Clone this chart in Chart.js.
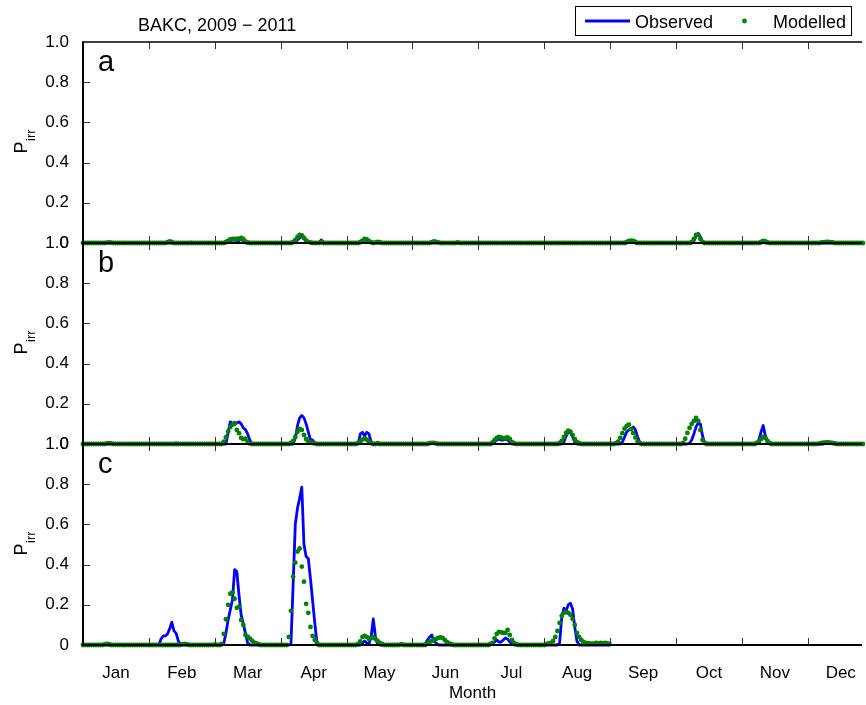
<!DOCTYPE html>
<html><head><meta charset="utf-8">
<script src="https://cdn.jsdelivr.net/npm/chart.js@4"></script>
<style>html,body{margin:0;padding:0;background:#fff}#wrap{position:relative;width:866px;height:705px}</style>
</head><body><div id="wrap"><canvas id="c"></canvas></div>
<script>
const months = ['Jan','Feb','Mar','Apr','May','Jun','Jul','Aug','Sep','Oct','Nov','Dec'];
const panelLetters = ['a','b','c'];
const yTickValues = [0.2,0.4,0.6,0.8];
const titleText = 'BAKC, 2009 \u2212 2011';
const seriesNames = ['Observed','Modelled'];

// Daily Pirr values (index = day of year, 0-based)
const obsA = [
/*0*/   0,0,0,0,0,0,0,0,0,0,
/*10*/  0,0,0,0,0,0,0,0,0,0,
/*20*/  0,0,0,0,0,0,0,0,0,0,
/*30*/  0,0,0,0,0,0,0,0,0,0,
/*40*/  0,0,0,0,0,0,0,0,0,0,
/*50*/  .005,0,0,0,0,0,0,0,0,0,
/*60*/  0,0,0,0,0,0,0,.005,.01,.015,
/*70*/  .015,.012,.012,.02,.01,0,0,0,0,0,
/*80*/  0,0,0,0,0,0,0,0,0,0,
/*90*/  0,0,0,0,0,0,0,0,.005,.015,
/*100*/ .025,.035,.03,.015,.003,0,0,0,0,.005,
/*110*/ .015,.005,0,0,0,0,0,0,0,0,
/*120*/ 0,0,0,0,0,0,0,0,0,.01,
/*130*/ .015,.012,.005,0,0,0,0,0,0,0,
/*140*/ 0,0,0,0,0,0,0,0,0,0,
/*150*/ 0,0,0,0,0,0,0,0,0,0,
/*160*/ 0,0,0,0,0,0,0,0,0,0,
/*170*/ 0,0,0,0,0,0,0,0,0,0,
/*180*/ 0,0,0,0,0,0,0,0,0,0,
/*190*/ 0,0,0,0,0,0,0,0,0,0,
/*200*/ 0,0,0,0,0,0,0,0,0,0,
/*210*/ 0,0,0,0,0,0,0,0,0,0,
/*220*/ 0,0,0,0,0,0,0,0,0,0,
/*230*/ 0,0,0,0,0,0,0,0,0,0,
/*240*/ 0,0,0,0,0,0,0,0,0,0,
/*250*/ 0,0,.005,.008,.005,0,0,0,0,0,
/*260*/ 0,0,0,0,0,0,0,0,0,0,
/*270*/ 0,0,0,0,0,0,0,0,0,0,
/*280*/ 0,0,.01,.035,.048,.03,.005,0,0,0,
/*290*/ 0,0,0,0,0,0,0,0,0,0,
/*300*/ 0,0,0,0,0,0,0,0,0,0,
/*310*/ 0,0,0,0,.005,0,0,0,0,0,
/*320*/ 0,0,0,0,0,0,0,0,0,0,
/*330*/ 0,0,0,0,0,0,0,0,0,0,
/*340*/ 0,0,0,0,0,0,0,0,0,0,
/*350*/ 0,0,0,0,0,0,0,0,0,0,
/*360*/ 0,0,0,0,0
];
const modA = [
/*0*/   0,0,0,0,0,0,0,0,0,0,
/*10*/  0,.002,.003,.002,0,0,0,0,0,0,
/*20*/  0,0,0,0,0,0,0,0,0,0,
/*30*/  0,0,0,0,0,0,0,0,0,.004,
/*40*/  .008,.005,0,0,0,0,0,0,0,0,
/*50*/  0,0,0,0,0,0,0,0,0,0,
/*60*/  0,0,0,0,0,0,.005,.012,.018,.02,
/*70*/  .02,.02,.022,.025,.02,.008,.003,0,0,0,
/*80*/  0,0,0,0,0,0,0,0,0,0,
/*90*/  0,0,0,0,0,0,0,.005,.015,.03,
/*100*/ .04,.038,.025,.012,.006,.003,0,0,0,0,
/*110*/ .004,0,0,0,0,0,0,0,0,0,
/*120*/ 0,0,0,0,0,0,0,0,.005,.012,
/*130*/ .02,.018,.01,.004,0,.003,.005,.004,0,0,
/*140*/ 0,0,0,0,0,0,0,0,0,0,
/*150*/ 0,0,0,0,0,0,0,0,0,0,
/*160*/ 0,.004,.008,.006,.003,0,0,0,0,0,
/*170*/ 0,0,0,.003,0,0,0,0,0,0,
/*180*/ 0,0,0,0,0,0,0,0,0,0,
/*190*/ 0,0,0,0,0,0,0,0,0,0,
/*200*/ 0,0,0,0,0,0,0,0,0,0,
/*210*/ 0,0,0,0,0,0,0,0,0,0,
/*220*/ 0,0,0,0,0,0,0,0,0,0,
/*230*/ 0,0,0,0,0,0,0,0,0,0,
/*240*/ 0,0,0,0,0,0,0,0,0,0,
/*250*/ 0,.005,.01,.012,.01,.005,0,0,0,0,
/*260*/ 0,0,0,0,0,0,0,0,0,0,
/*270*/ 0,0,0,0,0,0,0,0,0,0,
/*280*/ 0,.005,.02,.04,.04,.02,.005,0,0,0,
/*290*/ 0,0,0,0,0,0,0,0,0,0,
/*300*/ 0,0,0,0,0,0,0,0,0,0,
/*310*/ 0,0,0,.005,.01,.008,.003,0,0,0,
/*320*/ 0,0,0,0,0,0,0,0,0,0,
/*330*/ 0,0,0,0,0,0,0,0,0,0,
/*340*/ 0,.003,.004,.005,.005,.004,.003,0,0,0,
/*350*/ 0,0,0,0,0,0,0,0,0,0,
/*360*/ 0,0,0,0,0
];
const obsB = [
/*0*/   0,0,0,0,0,0,0,0,0,0,
/*10*/  0,0,0,0,0,0,0,0,0,0,
/*20*/  0,0,0,0,0,0,0,0,0,0,
/*30*/  0,0,0,0,0,0,0,0,0,0,
/*40*/  0,0,0,.006,0,0,0,0,0,0,
/*50*/  0,0,0,0,0,0,0,0,0,0,
/*60*/  0,0,0,0,0,0,0,.06,.11,.1,
/*70*/  .097,.105,.11,.1,.08,.072,.05,.02,0,0,
/*80*/  0,0,0,0,0,0,0,0,0,0,
/*90*/  0,0,0,0,0,0,0,0,.03,.09,
/*100*/ .13,.142,.13,.1,.06,.02,.02,.005,0,0,
/*110*/ 0,0,0,0,0,0,0,0,0,0,
/*120*/ 0,0,0,0,0,0,0,0,.05,.058,
/*130*/ .04,.058,.05,.01,0,0,0,0,0,0,
/*140*/ 0,0,0,0,0,0,0,0,0,0,
/*150*/ 0,0,0,0,0,0,0,0,0,0,
/*160*/ .005,.008,.005,0,0,0,0,0,0,0,
/*170*/ 0,0,0,0,0,0,0,0,0,0,
/*180*/ 0,0,0,0,0,0,0,0,0,0,
/*190*/ .01,.02,.025,.02,.02,.025,.02,.01,0,0,
/*200*/ 0,0,0,0,0,0,0,0,0,0,
/*210*/ 0,0,0,0,0,0,0,0,0,0,
/*220*/ 0,0,.01,.04,.058,.058,.035,.01,0,0,
/*230*/ 0,0,0,0,0,0,0,0,0,0,
/*240*/ 0,0,0,0,0,0,0,0,0,.01,
/*250*/ .035,.06,.07,.075,.085,.07,.035,.01,0,0,
/*260*/ 0,0,0,0,0,0,0,0,0,0,
/*270*/ 0,0,0,0,0,0,0,0,0,0,
/*280*/ .005,.02,.05,.085,.105,.1,.04,.005,0,0,
/*290*/ 0,0,0,0,0,0,0,0,0,0,
/*300*/ 0,0,0,0,0,0,0,0,0,0,
/*310*/ 0,.005,.02,.06,.092,.04,.01,0,0,0,
/*320*/ 0,0,0,0,0,0,0,0,0,0,
/*330*/ 0,0,0,0,0,0,0,0,0,0,
/*340*/ 0,0,0,.004,.005,.005,.004,0,0,0,
/*350*/ 0,0,0,0,0,0,0,0,0,0,
/*360*/ 0,0,0,0,0
];
const modB = [
/*0*/   0,0,0,0,0,0,0,0,0,0,
/*10*/  0,.003,.004,.003,0,0,0,0,0,0,
/*20*/  0,0,0,0,0,0,0,0,0,0,
/*30*/  0,0,0,0,0,0,0,0,0,0,
/*40*/  0,0,0,0,0,0,0,0,0,0,
/*50*/  0,0,0,0,0,0,0,0,0,0,
/*60*/  0,0,0,0,0,.012,.034,.062,.084,.096,
/*70*/  .104,.07,.054,.03,.024,.026,.01,.003,0,0,
/*80*/  0,0,0,0,0,0,0,0,0,0,
/*90*/  0,0,0,0,0,0,.005,.015,.035,.06,
/*100*/ .075,.07,.045,.025,.012,.008,.005,.003,0,0,
/*110*/ 0,0,0,0,0,0,0,0,0,0,
/*120*/ 0,0,0,0,0,0,0,.005,.012,.022,
/*130*/ .028,.022,.012,.005,0,0,.004,0,0,0,
/*140*/ 0,0,0,0,0,0,0,0,0,0,
/*150*/ 0,0,0,0,0,0,0,0,0,0,
/*160*/ .004,.006,.006,.003,0,0,0,0,0,0,
/*170*/ 0,0,0,0,0,0,0,0,0,0,
/*180*/ 0,0,0,0,0,0,0,0,0,.008,
/*190*/ .02,.03,.035,.033,.028,.03,.033,.025,.01,.004,
/*200*/ 0,0,0,0,0,0,0,0,0,0,
/*210*/ 0,0,0,0,0,0,0,0,0,0,
/*220*/ .005,.015,.035,.055,.066,.062,.045,.025,.01,.004,
/*230*/ 0,0,0,0,0,0,0,0,0,0,
/*240*/ 0,0,0,0,0,0,.004,.012,.03,.054,
/*250*/ .076,.09,.096,.074,.054,.032,.012,.004,0,0,
/*260*/ 0,0,0,0,0,0,0,0,0,0,
/*270*/ 0,0,0,0,0,0,0,.005,.026,.055,
/*280*/ .08,.1,.115,.13,.115,.07,.02,.005,0,0,
/*290*/ 0,0,0,0,0,0,0,0,0,0,
/*300*/ 0,0,0,0,0,0,0,0,0,0,
/*310*/ 0,.005,.012,.025,.035,.03,.015,.005,0,0,
/*320*/ 0,0,0,0,0,0,0,0,0,0,
/*330*/ 0,0,0,0,0,0,0,0,0,0,
/*340*/ .003,.005,.007,.008,.008,.007,.005,.003,0,0,
/*350*/ 0,0,0,0,0,0,0,0,0,0,
/*360*/ 0,0,0,0,0
];
const obsC = [
/*0*/   0,0,0,0,0,0,0,0,0,0,
/*10*/  0,0,0,0,0,0,0,0,0,0,
/*20*/  0,0,0,0,0,0,0,0,0,0,
/*30*/  0,0,0,0,0,0,.03,.045,.045,.055,
/*40*/  .08,.113,.07,.058,.02,0,0,0,0,0,
/*50*/  0,0,0,0,0,0,0,0,0,0,
/*60*/  0,0,0,0,0,.01,.06,.125,.175,.225,
/*70*/  .375,.365,.25,.15,.105,.058,.01,0,0,0,
/*80*/  0,0,0,0,0,0,0,0,0,0,
/*90*/  0,0,0,0,0,0,.005,.3,.6,.68,
/*100*/ .73,.785,.5,.44,.43,.33,.22,.11,.01,0,
/*110*/ 0,0,0,0,0,0,0,0,0,0,
/*120*/ 0,0,0,0,0,0,0,0,0,.01,
/*130*/ .02,.01,.005,.04,.13,.04,.005,0,0,0,
/*140*/ 0,0,0,0,0,0,0,.005,0,0,
/*150*/ 0,0,0,0,0,0,0,0,.005,.025,
/*160*/ .04,.05,.02,.01,0,0,0,0,0,0,
/*170*/ 0,0,0,0,0,0,0,0,0,0,
/*180*/ 0,0,0,0,0,0,0,0,0,.005,
/*190*/ .015,.025,.015,.015,.025,.035,.03,.015,.005,0,
/*200*/ 0,0,0,0,0,0,0,0,0,0,
/*210*/ 0,0,0,0,0,0,0,0,0,0,
/*220*/ .01,.14,.183,.17,.2,.208,.18,.09,.02,0,
/*230*/ 0,0,0,0,0,0,0,0,0,0,
/*240*/ 0,0,0,0
];
const modC = [
/*0*/   0,0,0,0,0,0,0,0,0,0,
/*10*/  .003,.006,.004,0,0,0,0,0,0,0,
/*20*/  0,0,0,0,0,0,0,0,0,0,
/*30*/  0,0,0,0,0,0,0,0,0,0,
/*40*/  0,0,0,0,0,0,.004,.005,.003,0,
/*50*/  0,0,0,0,0,0,0,0,0,0,
/*60*/  0,.003,0,0,.005,.055,.128,.2,.255,.262,
/*70*/  .23,.185,.19,.125,.1,.05,.042,.033,.022,.012,
/*80*/  .008,.004,0,0,0,0,0,0,0,0,
/*90*/  0,0,0,0,0,.04,.17,.34,.41,.465,
/*100*/ .48,.39,.315,.205,.16,.09,.045,.025,.01,0,
/*110*/ 0,0,0,0,0,0,0,0,0,0,
/*120*/ 0,0,0,0,0,0,0,.005,.018,.04,
/*130*/ .045,.04,.03,.035,.038,.03,.02,.01,.005,0,
/*140*/ 0,0,0,0,0,0,0,.004,0,0,
/*150*/ 0,0,0,0,0,0,0,0,0,.008,
/*160*/ .015,.02,.025,.03,.035,.038,.035,.025,.015,.008,
/*170*/ .004,0,0,0,0,0,0,0,0,0,
/*180*/ 0,0,0,0,0,0,0,0,.005,.01,
/*190*/ .033,.055,.065,.063,.06,.06,.075,.05,.025,.01,
/*200*/ .004,0,0,0,0,0,0,0,0,0,
/*210*/ 0,0,0,0,.005,.008,.01,.02,.04,.07,
/*220*/ .11,.145,.16,.165,.16,.15,.13,.1,.06,.04,
/*230*/ .025,.015,.01,.008,.008,.006,.008,.01,.008,.01,
/*240*/ .008,.01,.008,.005
];

const FONT = '"Liberation Sans", Arial, Helvetica, sans-serif';
const DAYS_PER_MONTH = 365 / 12;
const X_MAX = 359.6;
const BLUE = '#0000ff';
const GREEN = '#008000';

function toPoints(arr){ return arr.map((v, i) => ({x: i, y: v})); }

function panelAxis(weight){
  return {
    type: 'linear', position: 'left', stack: 'panels', stackWeight: 1, weight: weight,
    min: 0, max: 1,
    grid: {display: false}, border: {display: false},
    ticks: {stepSize: 0.2, autoSkip: false, color: '#000', padding: 6, font: {family: FONT, size: 17},
      callback: v => (Math.abs(v) < 1e-9 ? '0' : v.toFixed(1))},
    afterFit(s){ s.width = 83; }
  };
}

const panelIds = ['yA','yB','yC'];
const obsSets = [obsA, obsB, obsC];
const modSets = [modA, modB, modC];
const datasets = [];
panelIds.forEach((id, k) => {
  datasets.push({label: seriesNames[0], data: toPoints(obsSets[k]), yAxisID: id, xAxisID: 'x',
    borderColor: BLUE, borderWidth: 2.8, borderJoinStyle: 'round', borderCapStyle: 'round',
    pointRadius: 0, tension: 0, fill: false, order: 2, clip: 3});
  datasets.push({label: seriesNames[1], data: toPoints(modSets[k]), yAxisID: id, xAxisID: 'x',
    showLine: false, pointRadius: 2.4, pointBorderWidth: 0, pointBackgroundColor: GREEN,
    borderColor: GREEN, order: 1, clip: 4});
});

function seg(ctx, x1, y1, x2, y2){ ctx.beginPath(); ctx.moveTo(x1, y1); ctx.lineTo(x2, y2); ctx.stroke(); }

const framePlugin = {
  id: 'frame',
  afterDatasetsDraw(chart){
    const {ctx, chartArea: ca, scales} = chart;
    const xs = scales.x;
    ctx.save();
    ctx.strokeStyle = '#333'; ctx.lineWidth = 1;
    panelIds.forEach(id => {
      const s = scales[id];
      for (let k = 1; k < 12; k++) {
        const px = Math.round(xs.getPixelForValue(k * DAYS_PER_MONTH)) + 0.5;
        if (px > ca.right) continue;
        seg(ctx, px, s.top, px, s.top + 7);
        seg(ctx, px, s.bottom, px, s.bottom - 7);
      }
      yTickValues.forEach(v => {
        const py = Math.round(s.getPixelForValue(v)) + 0.5;
        seg(ctx, ca.left, py, ca.left + 7, py);
      });
    });
    ctx.strokeStyle = '#000';
    ctx.lineWidth = 1.5;
    seg(ctx, ca.left, scales.yA.top, ca.right, scales.yA.top);
    ctx.lineWidth = 2;
    panelIds.forEach(id => seg(ctx, ca.left, scales[id].bottom, ca.right, scales[id].bottom));
    seg(ctx, ca.left, ca.top - 0.75, ca.left, ca.bottom + 1);
    ctx.restore();
  },
  afterDraw(chart){
    const {ctx, scales} = chart;
    ctx.save();
    ctx.fillStyle = '#000';
    ctx.font = '18px ' + FONT;
    ctx.textAlign = 'left'; ctx.textBaseline = 'alphabetic';
    ctx.fillText(titleText, 138, 31);
    panelIds.forEach((id, k) => {
      const s = scales[id];
      ctx.font = '29px ' + FONT;
      ctx.textAlign = 'left'; ctx.textBaseline = 'alphabetic';
      ctx.fillText(panelLetters[k], 98, s.top + 29);
      const cy = (s.top + s.bottom) / 2;
      ctx.save();
      ctx.translate(26.7, cy + 11);
      ctx.rotate(-Math.PI / 2);
      ctx.font = '18px ' + FONT;
      ctx.fillText('P', 0, 0);
      const w = ctx.measureText('P').width;
      ctx.font = '13px ' + FONT;
      ctx.fillText('irr', w + 0.5, 8);
      ctx.restore();
    });
    ctx.fillStyle = '#fff';
    ctx.fillRect(575, 6, 277, 30);
    ctx.strokeStyle = '#000'; ctx.lineWidth = 1;
    ctx.strokeRect(575.5, 6.5, 276, 29);
    ctx.strokeStyle = BLUE; ctx.lineWidth = 3;
    seg(ctx, 585, 21, 630, 21);
    ctx.fillStyle = GREEN;
    ctx.beginPath(); ctx.arc(744.5, 21, 2.4, 0, Math.PI * 2); ctx.fill();
    ctx.fillStyle = '#000';
    ctx.font = '18px ' + FONT;
    ctx.fillText(seriesNames[0], 635, 27.5);
    ctx.fillText(seriesNames[1], 773, 27.5);
    ctx.restore();
  }
};

new Chart(document.getElementById('c'), {
  type: 'line',
  data: {datasets},
  plugins: [framePlugin],
  options: {
    responsive: true, maintainAspectRatio: false, animation: false, events: [],
    layout: {padding: {top: 42, left: 0, right: 0, bottom: 0}},
    plugins: {legend: {display: false}, tooltip: {enabled: false}, title: {display: false}},
    scales: {
      x: {
        type: 'linear', position: 'bottom', min: 0, max: X_MAX,
        grid: {display: false}, border: {display: false},
        afterBuildTicks(s){ s.ticks = months.map((m, i) => ({value: (i + 0.5) * DAYS_PER_MONTH})); },
        ticks: {autoSkip: false, maxRotation: 0, color: '#000', padding: 10,
          font: {family: FONT, size: 17}, callback: (v, i) => months[i]},
        title: {display: true, text: 'Month', color: '#000', font: {family: FONT, size: 17}, padding: {top: 2, bottom: 1}},
        afterFit(s){ s.height = 60; }
      },
      yC: panelAxis(1),
      yB: panelAxis(2),
      yA: panelAxis(3)
    }
  }
});
</script>
</body></html>
